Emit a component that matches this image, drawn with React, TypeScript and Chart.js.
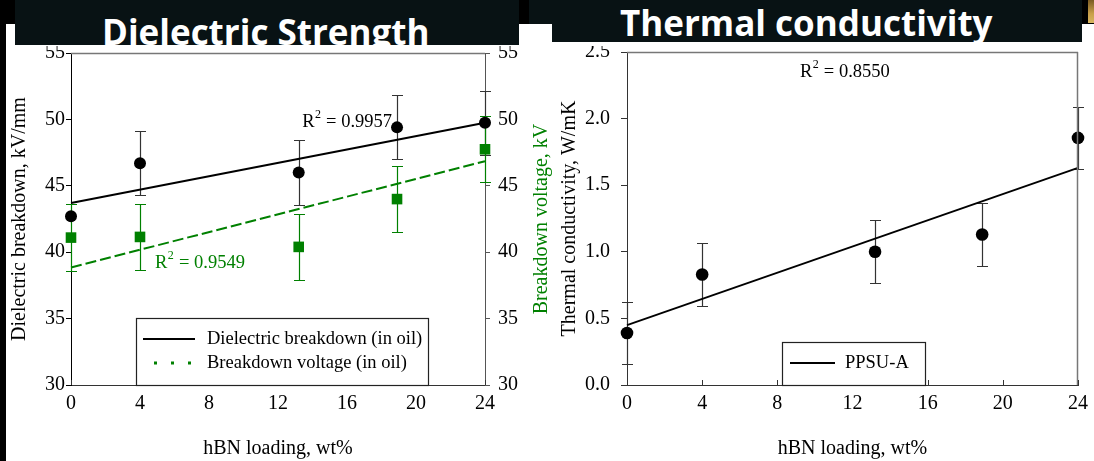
import React, { useEffect, useRef } from 'react';
import { Chart, registerables } from 'chart.js';

Chart.register(...registerables);

// ---------- data ----------
const loading = [0, 4, 13.2, 18.9, 24];
const dielectricBreakdown = [42.7, 46.7, 46.0, 49.4, 49.75];
const dielectricErr = [null, 2.4, 2.45, 2.4, 2.4];
const breakdownVoltage = [41.1, 41.15, 40.4, 44.0, 47.75];
const breakdownErr = [2.5, 2.5, 2.5, 2.5, 2.5];
const fitX = [0, 24];
const dielectricFit = [43.7, 49.75];
const voltageFit = [38.85, 46.85];
const thermalConductivity = [0.39, 0.83, 1.0, 1.13, 1.855];
const thermalErr = [0.23, 0.235, 0.235, 0.235, 0.235];
const thermalFit = [0.45, 1.63];
const rSquared = ['0.9957', '0.9549', '0.8550'];
const xTickLabels = ['0', '4', '8', '12', '16', '20', '24'];
const kvTickLabels = ['30', '35', '40', '45', '50', '55'];
const tcTickLabels = ['0.0', '0.5', '1.0', '1.5', '2.0', '2.5'];
const seriesNames = ['Dielectric breakdown (in oil)', 'Breakdown voltage (in oil)', 'PPSU-A'];
const titles = ['Dielectric Strength', 'Thermal conductivity'];
const xTitle = 'hBN loading, wt%';
const yTitles = ['Dielectric breakdown, kV/mm', 'Breakdown voltage, kV', 'Thermal conductivity, W/mK'];

// ---------- style ----------
const serif = "'Liberation Serif', 'Times New Roman', Times, serif";
const green = '#008000';
const tickFont = { family: serif, size: 20, lineHeight: 1.2 };
const titleFont = { family: serif, size: 20, lineHeight: 1.2 };

type EB = { axis: string; xs: number[]; values: number[]; errors: (number | null)[]; color: string; width: number; cap: number };
type R2 = { x: number; y: number; axis: string; value: string; color: string };
type LegItem = { label: string; color: string; dash: number[]; width: number; x0: number; x1: number };
type DecorCfg = {
  errorBars: EB[];
  rightBorder: boolean;
  r2: R2[];
  legend: { dx: number; dy: number; w: number; textX: number; rows: number[]; items: LegItem[] };
  rightTitle?: { text: string; color: string; inset: number };
};

function drawR2(ctx: CanvasRenderingContext2D, x: number, y: number, value: string, color: string) {
  ctx.save();
  ctx.fillStyle = color;
  ctx.textBaseline = 'middle';
  ctx.textAlign = 'left';
  ctx.font = `18.5px ${serif}`;
  ctx.fillText('R', x, y);
  const w1 = ctx.measureText('R').width;
  ctx.font = `12px ${serif}`;
  ctx.fillText('2', x + w1 + 0.5, y - 7);
  const w2 = ctx.measureText('2').width;
  ctx.font = `18.5px ${serif}`;
  ctx.fillText(' = ' + value, x + w1 + w2 + 1, y);
  ctx.restore();
}

function makeDecor(cfg: DecorCfg) {
  return {
    id: 'decor',
    beforeDatasetsDraw(chart: any) {
      const ctx = chart.ctx as CanvasRenderingContext2D;
      const xs = chart.scales.x;
      cfg.errorBars.forEach((eb) => {
        const ys = chart.scales[eb.axis];
        ctx.save();
        ctx.strokeStyle = eb.color;
        ctx.lineWidth = eb.width;
        eb.values.forEach((v, i) => {
          const e = eb.errors[i];
          if (e == null) return;
          const px = Math.round(xs.getPixelForValue(eb.xs[i])) + 0.5;
          const t = Math.round(ys.getPixelForValue(v + e)) + 0.5;
          const b = Math.round(ys.getPixelForValue(v - e)) + 0.5;
          ctx.beginPath();
          ctx.moveTo(px, t);
          ctx.lineTo(px, b);
          ctx.moveTo(px - eb.cap, t);
          ctx.lineTo(px + eb.cap, t);
          ctx.moveTo(px - eb.cap, b);
          ctx.lineTo(px + eb.cap, b);
          ctx.stroke();
        });
        ctx.restore();
      });
    },
    afterDraw(chart: any) {
      const ctx = chart.ctx as CanvasRenderingContext2D;
      const a = chart.chartArea;
      const xs = chart.scales.x;
      ctx.save();
      // frame
      ctx.strokeStyle = '#777';
      ctx.lineWidth = 1.5;
      ctx.beginPath();
      ctx.moveTo(a.left, a.top + 0.5);
      ctx.lineTo(a.right, a.top + 0.5);
      if (cfg.rightBorder) {
        ctx.moveTo(a.right - 0.5, a.top);
        ctx.lineTo(a.right - 0.5, a.bottom);
      }
      ctx.stroke();
      // inward x ticks
      ctx.strokeStyle = '#333';
      ctx.lineWidth = 1;
      ctx.beginPath();
      xs.ticks.forEach((t: any) => {
        const px = Math.round(xs.getPixelForValue(t.value)) + 0.5;
        ctx.moveTo(px, a.bottom);
        ctx.lineTo(px, a.bottom - 5);
      });
      ctx.stroke();
      // R^2 labels
      cfg.r2.forEach((r) => {
        drawR2(ctx, xs.getPixelForValue(r.x), chart.scales[r.axis].getPixelForValue(r.y), r.value, r.color);
      });
      // legend box
      const L = cfg.legend;
      const bx = a.left + L.dx;
      const by = a.top + L.dy;
      ctx.fillStyle = '#fff';
      ctx.fillRect(bx, by, L.w, a.bottom - by);
      ctx.strokeStyle = '#222';
      ctx.lineWidth = 1.2;
      ctx.strokeRect(bx + 0.5, by + 0.5, L.w, a.bottom - by);
      L.items.forEach((it, i) => {
        const ry = by + L.rows[i];
        ctx.save();
        ctx.strokeStyle = it.color;
        ctx.lineWidth = it.width;
        ctx.setLineDash(it.dash);
        ctx.beginPath();
        ctx.moveTo(bx + it.x0, ry);
        ctx.lineTo(bx + it.x1, ry);
        ctx.stroke();
        ctx.restore();
        ctx.fillStyle = '#000';
        ctx.font = `18.5px ${serif}`;
        ctx.textBaseline = 'middle';
        ctx.textAlign = 'left';
        ctx.fillText(it.label, bx + L.textX, ry);
      });
      // right axis title (reads bottom to top)
      if (cfg.rightTitle) {
        const s = chart.scales.y2;
        ctx.save();
        ctx.translate(s.right - cfg.rightTitle.inset, (a.top + a.bottom) / 2);
        ctx.rotate(-Math.PI / 2);
        ctx.fillStyle = cfg.rightTitle.color;
        ctx.font = `20px ${serif}`;
        ctx.textAlign = 'center';
        ctx.textBaseline = 'middle';
        ctx.fillText(cfg.rightTitle.text, 0, 0);
        ctx.restore();
      }
      ctx.restore();
    },
  };
}

const noPad = (s: any) => {
  s.paddingTop = 0;
  s.paddingBottom = 0;
  s.paddingLeft = 0;
  s.paddingRight = 0;
};

function xScale(height: number) {
  return {
    type: 'linear',
    position: 'bottom',
    min: 0,
    max: 24,
    ticks: { stepSize: 4, autoSkip: false, maxRotation: 0, padding: 7, color: '#000', font: tickFont, callback: (_v: any, i: number) => xTickLabels[i] },
    grid: { drawOnChartArea: false, drawTicks: false },
    border: { color: '#333', width: 1 },
    title: { display: true, text: xTitle, color: '#000', font: titleFont, padding: { top: 0, bottom: 0 } },
    afterFit: (s: any) => { s.height = height; noPad(s); },
  };
}

const pts = (ys: number[], xs: number[] = loading) => xs.map((x, i) => ({ x, y: ys[i] }));

export default function App() {
  const c1 = useRef<HTMLCanvasElement>(null);
  const c2 = useRef<HTMLCanvasElement>(null);

  useEffect(() => {
    const decor1 = makeDecor({
      errorBars: [
        { axis: 'y', xs: loading, values: dielectricBreakdown, errors: dielectricErr, color: '#333', width: 1.2, cap: 5.5 },
        { axis: 'y2', xs: loading, values: breakdownVoltage, errors: breakdownErr, color: green, width: 1.2, cap: 5.5 },
      ],
      rightBorder: false,
      r2: [
        { x: 13.4, y: 49.8, axis: 'y', value: rSquared[0], color: '#000' },
        { x: 4.87, y: 39.2, axis: 'y2', value: rSquared[1], color: green },
      ],
      legend: {
        dx: 65, dy: 265, w: 292, textX: 71, rows: [21, 45],
        items: [
          { label: seriesNames[0], color: '#000', dash: [], width: 2, x0: 7, x1: 59 },
          { label: seriesNames[1], color: green, dash: [3, 14], width: 3, x0: 18, x1: 56 },
        ],
      },
      rightTitle: { text: yTitles[1], color: green, inset: 14 },
    });

    const chart1 = new Chart(c1.current as HTMLCanvasElement, {
      type: 'scatter',
      data: {
        datasets: [
          { label: seriesNames[0], data: pts(dielectricBreakdown), yAxisID: 'y', pointStyle: 'circle', pointRadius: 6, backgroundColor: '#000', borderColor: '#000', borderWidth: 0, clip: false },
          { label: seriesNames[1], data: pts(breakdownVoltage), yAxisID: 'y2', pointStyle: 'rect', pointRadius: 7.5, backgroundColor: green, borderColor: green, borderWidth: 0, clip: false },
          { label: 'fit dielectric', data: pts(dielectricFit, fitX), yAxisID: 'y', showLine: true, pointRadius: 0, borderColor: '#000', borderWidth: 2, clip: false },
          { label: 'fit voltage', data: pts(voltageFit, fitX), yAxisID: 'y2', showLine: true, pointRadius: 0, borderColor: green, borderWidth: 2, borderDash: [11, 4], clip: false },
        ],
      } as any,
      options: {
        responsive: false,
        animation: false,
        events: [],
        layout: { padding: { top: 7, left: 0, right: 0, bottom: 0 }, autoPadding: false },
        plugins: { legend: { display: false }, tooltip: { enabled: false }, title: { display: false } },
        scales: {
          x: xScale(76),
          y: {
            type: 'linear', position: 'left', min: 30, max: 55,
            ticks: { stepSize: 5, padding: 1, color: '#000', font: tickFont, callback: (_v: any, i: number) => kvTickLabels[i] },
            grid: { drawOnChartArea: false, drawTicks: true, tickLength: 5, color: '#000' },
            border: { color: '#000', width: 1 },
            title: { display: true, text: yTitles[0], color: '#000', font: titleFont, padding: { top: 8, bottom: 0 } },
            afterFit: (s: any) => { s.width = 71; noPad(s); },
          },
          y2: {
            type: 'linear', position: 'right', min: 30, max: 55,
            ticks: { stepSize: 5, padding: 8, color: '#000', font: tickFont, callback: (_v: any, i: number) => kvTickLabels[i] },
            grid: { drawOnChartArea: false, drawTicks: true, tickLength: 5, color: '#555' },
            border: { color: '#555', width: 1 },
            title: { display: false },
            afterFit: (s: any) => { s.width = 71; noPad(s); },
          },
        },
      } as any,
      plugins: [decor1],
    });

    const decor2 = makeDecor({
      errorBars: [
        { axis: 'y', xs: loading, values: thermalConductivity, errors: thermalErr, color: '#333', width: 1.2, cap: 5.5 },
      ],
      rightBorder: true,
      r2: [{ x: 9.2, y: 2.35, axis: 'y', value: rSquared[2], color: '#000' }],
      legend: {
        dx: 155, dy: 290, w: 143, textX: 63, rows: [21],
        items: [{ label: seriesNames[2], color: '#000', dash: [], width: 2, x0: 8, x1: 53 }],
      },
    });

    const chart2 = new Chart(c2.current as HTMLCanvasElement, {
      type: 'scatter',
      data: {
        datasets: [
          { label: seriesNames[2], data: pts(thermalConductivity), yAxisID: 'y', pointStyle: 'circle', pointRadius: 6.3, backgroundColor: '#000', borderColor: '#000', borderWidth: 0, clip: false },
          { label: 'fit thermal', data: pts(thermalFit, fitX), yAxisID: 'y', showLine: true, pointRadius: 0, borderColor: '#000', borderWidth: 1.8, clip: false },
        ],
      } as any,
      options: {
        responsive: false,
        animation: false,
        events: [],
        layout: { padding: { top: 6, left: 0, right: 16, bottom: 0 }, autoPadding: false },
        plugins: { legend: { display: false }, tooltip: { enabled: false }, title: { display: false } },
        scales: {
          x: xScale(76),
          y: {
            type: 'linear', position: 'left', min: 0, max: 2.5,
            ticks: { stepSize: 0.5, padding: 11, color: '#000', font: tickFont, callback: (_v: any, i: number) => tcTickLabels[i] },
            grid: { drawOnChartArea: false, drawTicks: true, tickLength: 6, color: '#333' },
            border: { color: '#333', width: 1 },
            title: { display: true, text: yTitles[2], color: '#000', font: titleFont, padding: { top: 6, bottom: 0 } },
            afterFit: (s: any) => { s.width = 75; noPad(s); },
          },
        },
      } as any,
      plugins: [decor2],
    });

    return () => {
      chart1.destroy();
      chart2.destroy();
    };
  }, []);

  const boxColor = '#081214';
  const titleText: React.CSSProperties = {
    position: 'absolute',
    whiteSpace: 'nowrap',
    color: '#fff',
    fontFamily: "'Open Sans', 'Noto Sans', sans-serif",
    fontWeight: 700,
    fontSize: 35,
    lineHeight: '35px',
  };

  return (
    <div style={{ position: 'absolute', left: 0, top: 0, width: 1094, height: 461, background: '#fff', overflow: 'hidden' }}>
      <canvas ref={c1} width={556} height={415} style={{ position: 'absolute', left: 0, top: 46 }} />
      <canvas ref={c2} width={542} height={415} style={{ position: 'absolute', left: 552, top: 46 }} />
      {/* top band */}
      <div style={{ position: 'absolute', left: 0, top: 0, width: 1094, height: 24, background: '#000' }} />
      <div style={{ position: 'absolute', left: 529, top: 0, width: 30, height: 24, background: boxColor }} />
      {/* left black strip */}
      <div style={{ position: 'absolute', left: 0, top: 0, width: 6, height: 461, background: '#000' }} />
      {/* gold corner */}
      <div style={{ position: 'absolute', left: 1088, top: 0, width: 6, height: 23, background: 'linear-gradient(180deg, #7a5a22, #c9a04a 60%, #d8b560)' }} />
      {/* title boxes */}
      <div style={{ position: 'absolute', left: 15, top: 0, width: 504, height: 45, background: boxColor, overflow: 'hidden' }}>
        <div style={{ ...titleText, left: 87, top: 14 }}>{titles[0]}</div>
      </div>
      <div style={{ position: 'absolute', left: 552, top: 0, width: 530, height: 42, background: boxColor, overflow: 'hidden' }}>
        <div style={{ ...titleText, left: 68, top: 5 }}>{titles[1]}</div>
      </div>
    </div>
  );
}
